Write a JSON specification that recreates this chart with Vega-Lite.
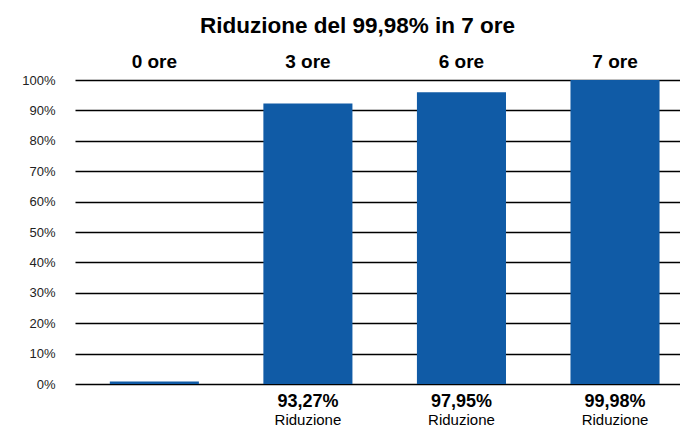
{
  "$schema": "https://vega.github.io/schema/vega-lite/v6.json",
  "width": 605,
  "height": 304,
  "autosize": "none",
  "padding": {"left": 75, "top": 80, "right": 0, "bottom": 44},
  "background": "white",
  "config": {
    "font": "Liberation Sans",
    "view": {"stroke": null}
  },
  "title": {
    "text": "Riduzione del 99,98% in 7 ore",
    "fontSize": 22.5,
    "fontWeight": "bold",
    "font": "Liberation Sans",
    "color": "#000000",
    "anchor": "middle",
    "dx": -20,
    "offset": 15
  },
  "data": {
    "values": [
      {"ore": "0 ore", "value": 0.8, "pct": "", "sub": ""},
      {"ore": "3 ore", "value": 92.3, "pct": "93,27%", "sub": "Riduzione"},
      {"ore": "6 ore", "value": 96.0, "pct": "97,95%", "sub": "Riduzione"},
      {"ore": "7 ore", "value": 100, "pct": "99,98%", "sub": "Riduzione"}
    ]
  },
  "encoding": {
    "x": {
      "field": "ore",
      "type": "nominal",
      "sort": null,
      "scale": {"paddingInner": 0.42, "paddingOuter": 0.18, "align": 0.63},
      "axis": {
        "orient": "top",
        "title": null,
        "ticks": false,
        "domain": false,
        "labelAngle": 0,
        "labelFontSize": 19,
        "labelFontWeight": "bold",
        "labelColor": "#000000",
        "labelPadding": 9
      }
    }
  },
  "resolve": {"axis": {"y": "independent"}},
  "layer": [
    {
      "mark": {"type": "bar", "color": "#105ba6"},
      "encoding": {
        "y": {
          "field": "value",
          "type": "quantitative",
          "scale": {"domain": [0, 100], "nice": false},
          "axis": {
            "title": null,
            "values": [0, 10, 20, 30, 40, 50, 60, 70, 80, 90, 100],
            "labelExpr": "datum.value + '%'",
            "labelOverlap": false,
            "labelFontSize": 13,
            "labelColor": "#222222",
            "labelPadding": 20,
            "ticks": false,
            "domain": false,
            "grid": true,
            "gridColor": "#000000",
            "gridWidth": 1.5,
            "gridOpacity": 1
          }
        }
      }
    },
    {
      "mark": {"type": "text", "fontSize": 18, "fontWeight": "bold", "color": "#000000", "baseline": "alphabetic", "dy": 23},
      "encoding": {
        "y": {"datum": 0, "axis": null},
        "text": {"field": "pct"}
      }
    },
    {
      "mark": {"type": "text", "fontSize": 15, "color": "#000000", "baseline": "alphabetic", "dy": 41},
      "encoding": {
        "y": {"datum": 0, "axis": null},
        "text": {"field": "sub"}
      }
    }
  ]
}
